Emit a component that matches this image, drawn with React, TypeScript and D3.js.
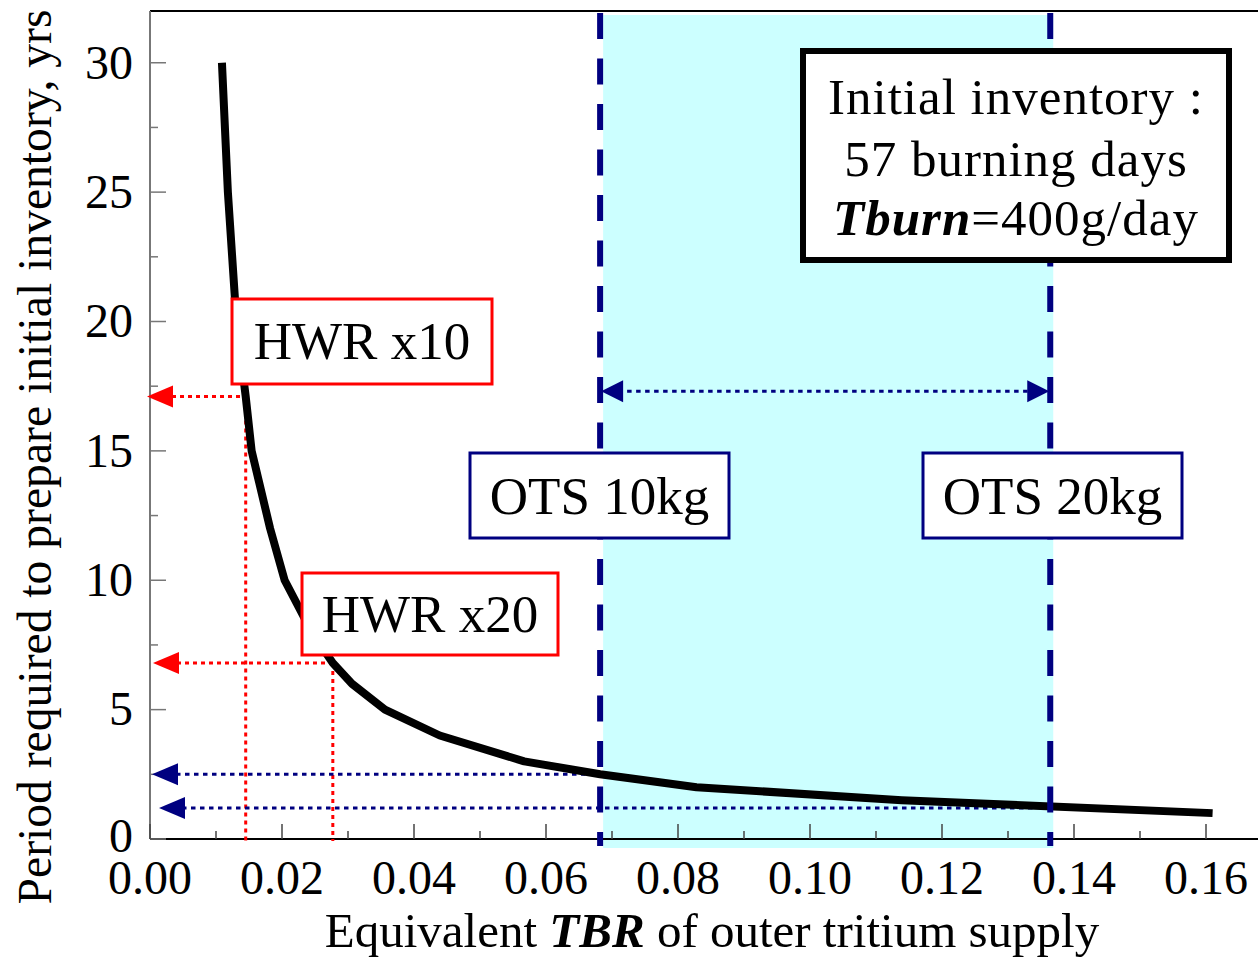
import * as d3 from "d3";

const FONT = "'Liberation Serif', 'Times New Roman', serif";
const NAVY = "#000080";
const RED = "#ff0000";

// curve: equivalent TBR vs years needed to prepare the initial inventory
const tbr = [0.0109, 0.0118, 0.0131, 0.0145, 0.0154, 0.0182, 0.0204, 0.0245, 0.0277, 0.0306, 0.0356, 0.0439, 0.0567, 0.0682, 0.0828, 0.1139, 0.161];
const years = [30, 25, 20, 17.1, 15, 12, 10, 8, 6.8, 6, 5, 4, 3, 2.5, 2, 1.5, 1.0];

// HWR read-offs (red) and OTS read-offs (navy)
const hwrTbr = [0.0145, 0.0277];
const hwrYears = [17.1, 6.8];
const otsTbr = [0.0682, 0.1364];
const otsYears = [2.5, 1.2];
const otsDotEnd = [0.0682, 0.1342];
const otsSpanYear = 17.3;

const xTicks = [0, 0.02, 0.04, 0.06, 0.08, 0.1, 0.12, 0.14, 0.16];
const xMinor = [0.01, 0.03, 0.05, 0.07, 0.09, 0.11, 0.13, 0.15];
const yTicks = [0, 5, 10, 15, 20, 25, 30];
const yMinor = [2.5, 7.5, 12.5, 17.5, 22.5, 27.5];

const W = 1258;
const H = 960;
const LEFT = 150;
const TOP = 11;
const BOTTOM = 839;

const x = d3.scaleLinear().domain([0, 0.16]).range([LEFT, 1206]);
const y = d3.scaleLinear().domain([0, 32]).range([BOTTOM, TOP]);

const line = d3
  .line<number>()
  .x((_, i) => x(tbr[i]))
  .y((d) => y(d));

// arrow head pointing left (dir=-1) or right (dir=1) with the tip at (tx, ty)
const head = (tx: number, ty: number, dir: number, len = 26, half = 11) =>
  `M${tx},${ty}L${tx - dir * len},${ty - half}L${tx - dir * len},${ty + half}Z`;

const Box = ({ x0, y0, w, h, stroke, sw, label, size, ty }: any) => (
  <g>
    <rect x={x0} y={y0} width={w} height={h} fill="#fff" stroke={stroke} strokeWidth={sw} />
    <text x={x0 + w / 2} y={ty} textAnchor="middle" fontSize={size} fontFamily={FONT}>
      {label}
    </text>
  </g>
);

export default function App() {
  const fs = 48;
  return (
    <svg
      width={W}
      height={H}
      style={{ position: "absolute", left: 0, top: 0, background: "#fff" }}
      fontFamily={FONT}
    >
      {/* OTS band */}
      <rect x={x(otsTbr[0]) + 3} y={15} width={x(otsTbr[1]) - x(otsTbr[0])} height={848 - 15} fill="#ccffff" />

      {/* frame */}
      <line x1={LEFT} x2={W} y1={TOP} y2={TOP} stroke="#000" strokeWidth={2} />
      <line x1={LEFT} x2={W} y1={BOTTOM} y2={BOTTOM} stroke="#000" strokeWidth={2} />
      <line x1={LEFT} x2={LEFT} y1={TOP} y2={BOTTOM} stroke="#777" strokeWidth={2} />

      {/* y ticks */}
      {yTicks.map((t) => (
        <g key={"y" + t}>
          <line x1={LEFT} x2={LEFT + 16} y1={y(t)} y2={y(t)} stroke="#777" strokeWidth={1.5} />
          <text x={133} y={y(t) + 0.33 * fs - (t === 0 ? 3 : 0)} textAnchor="end" fontSize={fs}>
            {t}
          </text>
        </g>
      ))}
      {yMinor.map((t) => (
        <line key={"ym" + t} x1={LEFT} x2={LEFT + 8} y1={y(t)} y2={y(t)} stroke="#777" strokeWidth={1.5} />
      ))}

      {/* x ticks */}
      {xTicks.map((t) => (
        <g key={"x" + t}>
          <line x1={x(t)} x2={x(t)} y1={BOTTOM} y2={BOTTOM - 15} stroke="#444" strokeWidth={1.5} />
          <text x={x(t)} y={894} textAnchor="middle" fontSize={fs}>
            {t.toFixed(2)}
          </text>
        </g>
      ))}
      {xMinor.map((t) => (
        <line key={"xm" + t} x1={x(t)} x2={x(t)} y1={BOTTOM} y2={BOTTOM - 8} stroke="#444" strokeWidth={1.5} />
      ))}

      {/* HWR read-off lines */}
      {hwrTbr.map((t, i) => (
        <g key={"h" + i}>
          <line x1={x(t)} x2={x(t)} y1={y(hwrYears[i])} y2={BOTTOM + 2} stroke={RED} strokeWidth={3} strokeDasharray="4,4" />
          <line x1={x(0) + 22 + i * 5} x2={x(t)} y1={y(hwrYears[i])} y2={y(hwrYears[i])} stroke={RED} strokeWidth={3} strokeDasharray="4,4" />
          <path d={head(x(0) - 3 + i * 6, y(hwrYears[i]), -1)} fill={RED} />
        </g>
      ))}

      {/* OTS read-off lines */}
      {otsYears.map((v, i) => (
        <g key={"o" + i}>
          <line x1={x(0) + 26 + i * 6} x2={x(otsDotEnd[i])} y1={y(v)} y2={y(v)} stroke={NAVY} strokeWidth={3} strokeDasharray="4.5,4.5" />
          <path d={head(x(0) + 2 + i * 7, y(v), -1)} fill={NAVY} />
        </g>
      ))}

      {/* main curve */}
      <path d={line(years) || ""} fill="none" stroke="#000" strokeWidth={8} strokeLinejoin="round" />

      {/* OTS boundaries */}
      {otsTbr.map((t) => (
        <line key={"ob" + t} x1={x(t)} x2={x(t)} y1={13} y2={846} stroke={NAVY} strokeWidth={6} strokeDasharray="26,19.5" />
      ))}
      <line
        x1={x(otsTbr[0]) + 18}
        x2={x(otsTbr[1]) - 18}
        y1={y(otsSpanYear)}
        y2={y(otsSpanYear)}
        stroke={NAVY}
        strokeWidth={3}
        strokeDasharray="4.5,4.5"
      />
      <path d={head(x(otsTbr[0]) + 1, y(otsSpanYear), -1, 22, 11)} fill={NAVY} />
      <path d={head(x(otsTbr[1]) - 1, y(otsSpanYear), 1, 22, 11)} fill={NAVY} />

      {/* label boxes */}
      <Box x0={232} y0={299} w={260} h={85} stroke={RED} sw={3} label="HWR x10" size={53} ty={359} />
      <Box x0={302} y0={573} w={256} h={82} stroke={RED} sw={3} label="HWR x20" size={53} ty={632} />
      <Box x0={470} y0={453} w={259} h={85} stroke={NAVY} sw={3} label="OTS 10kg" size={53} ty={514} />
      <Box x0={923} y0={453} w={259} h={85} stroke={NAVY} sw={3} label="OTS 20kg" size={53} ty={514} />

      {/* inventory box */}
      <rect x={803} y={51} width={426} height={209} fill="#fff" stroke="#000" strokeWidth={6} />
      <text x={1016} textAnchor="middle" fontSize={51} letterSpacing={1}>
        <tspan x={1016} y={114}>Initial inventory :</tspan>
        <tspan x={1016} y={176}>57 burning days</tspan>
        <tspan x={1016} y={235}>
          <tspan fontWeight="bold" fontStyle="italic">Tburn</tspan>=400g/day
        </tspan>
      </text>

      {/* axis titles */}
      <text x={712} y={947} textAnchor="middle" fontSize={49}>
        Equivalent <tspan fontWeight="bold" fontStyle="italic">TBR</tspan> of outer tritium supply
      </text>
      <text
        transform={`translate(51,${457}) rotate(-90)`}
        textAnchor="middle"
        fontSize={fs}
        textLength={895}
        lengthAdjust="spacingAndGlyphs"
      >
        Period required to prepare initial inventory, yrs
      </text>
    </svg>
  );
}
